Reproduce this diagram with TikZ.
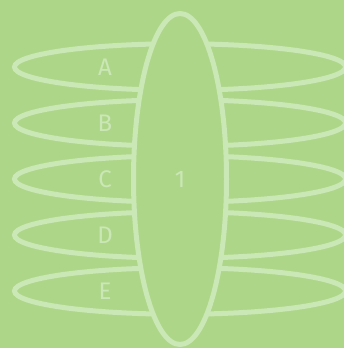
\documentclass[tikz,border=0pt]{standalone}
\usepackage{fontspec}
\setmainfont{Fira Sans}
\usetikzlibrary{shapes.geometric}
\definecolor{leaf}{HTML}{AED689}
\definecolor{pale}{HTML}{CAE7B6}

\tikzset{
  ring/.style={ellipse,draw=pale,line width=5pt,inner sep=0pt,
    minimum width=331pt,minimum height=46.5pt},
  core/.style={ellipse,draw=pale,fill=leaf,line width=5pt,inner sep=0pt,
    minimum width=93pt,minimum height=331pt},
  tag/.style={text=pale,font=\fontsize{24}{28}\selectfont}
}

\begin{document}
\begin{tikzpicture}[x=1pt,y=1pt]
  \fill[leaf] (0,0) rectangle (344,348);
  \useasboundingbox (0,0) rectangle (344,348);
  % flat rings
  \node[ring] (ringA) at (180,281) {};
  \node[ring] (ringB) at (180,225) {};
  \node[ring] (ringC) at (180,169) {};
  \node[ring] (ringD) at (180,113) {};
  \node[ring] (ringE) at (180,57) {};
  % upright one on top
  \node[core] (one) at (180,169) {};
  \node[tag] (labA) at (105,281) {A};
  \node[tag] (labB) at (105,225) {B};
  \node[tag] (labC) at (105,169) {C};
  \node[tag] (labD) at (105,113) {D};
  \node[tag] (labE) at (105,57) {E};
  \node[tag] (labOne) at (one.center) {1};
\end{tikzpicture}
\end{document}
